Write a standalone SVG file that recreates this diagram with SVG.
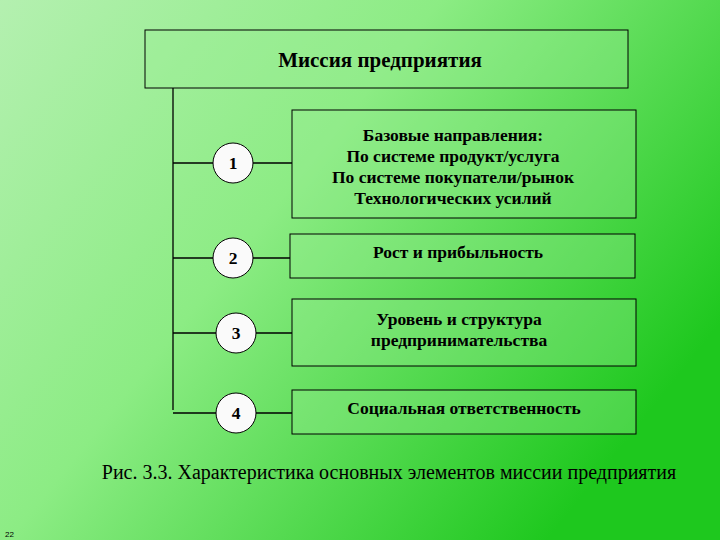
<svg xmlns="http://www.w3.org/2000/svg" width="720" height="540" viewBox="0 0 720 540">
<defs>
<linearGradient id="bg" x1="0" y1="0" x2="1" y2="0.6">
<stop offset="0" stop-color="#b4f0b0"/>
<stop offset="0.45" stop-color="#8cec84"/>
<stop offset="1" stop-color="#1ec81e"/>
</linearGradient>
<style>
.box{fill:#9cee94;fill-opacity:0.35;stroke:#000;stroke-width:1}
.ln{stroke:#000;stroke-width:1.3;fill:none}
.c{fill:#fafafa;stroke:#000;stroke-width:1}
.t{font-family:"Liberation Serif",serif;font-weight:bold;font-size:17.5px;fill:#000;text-anchor:middle}
</style>
</defs>
<rect width="720" height="540" fill="url(#bg)"/>
<g id="connectors">
<path class="ln" d="M173,88 V410 M173,163 H292 M173,258 H290 M173,333 H292 M173,413 H292"/>
</g>
<g id="mission"><rect class="box" x="145" y="30" width="483" height="58"/><text class="t" x="380" y="67" style="font-size:21px">Миссия предприятия</text></g>
<g id="c1"><circle class="c" cx="233" cy="163" r="20"/><text class="t" x="233" y="169">1</text></g>
<g id="c2"><circle class="c" cx="233" cy="258" r="20"/><text class="t" x="233" y="264">2</text></g>
<g id="c3"><circle class="c" cx="236" cy="333" r="20"/><text class="t" x="236" y="339">3</text></g>
<g id="c4"><circle class="c" cx="236" cy="413" r="20"/><text class="t" x="236" y="419">4</text></g>
<g id="b1"><rect class="box" x="292" y="110" width="344" height="108"/>
<text class="t" x="453" y="141">Базовые направления:</text>
<text class="t" x="453" y="162">По системе продукт/услуга</text>
<text class="t" x="453" y="183">По системе покупатели/рынок</text>
<text class="t" x="453" y="204">Технологических усилий</text></g>
<g id="b2"><rect class="box" x="290" y="234" width="345" height="44"/><text class="t" x="458" y="258">Рост и прибыльность</text></g>
<g id="b3"><rect class="box" x="292" y="299" width="344" height="67"/><text class="t" x="459" y="325">Уровень и структура</text><text class="t" x="459" y="346">предпринимательства</text></g>
<g id="b4"><rect class="box" x="292" y="390" width="344" height="44"/><text class="t" x="464" y="414">Социальная ответственность</text></g>
<text x="389" y="479" font-family="Liberation Serif,serif" font-size="20" text-anchor="middle">Рис. 3.3. Характеристика основных элементов миссии предприятия</text>
<text x="5" y="537" font-family="Liberation Sans,sans-serif" font-size="8">22</text>
</svg>
